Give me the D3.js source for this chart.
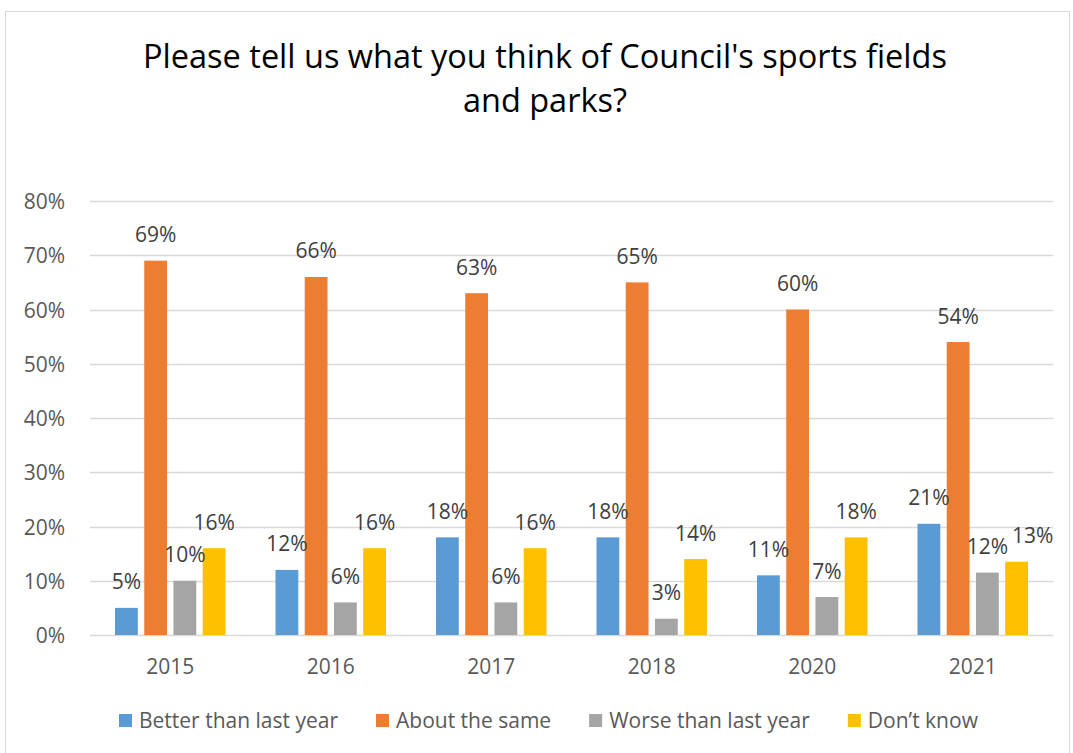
<!DOCTYPE html>
<html>
<head>
<meta charset="utf-8">
<script src="https://cdn.jsdelivr.net/npm/d3@7"></script>
<style>
    body { margin: 0; background: #fff; }
    svg text { font-family: "Open Sans", sans-serif; }
</style>
</head>
<body>
<div id="view"></div>
<script>
var years = ['2015', '2016', '2017', '2018', '2020', '2021'];
var seriesNames = ['Better than last year', 'About the same', 'Worse than last year', 'Don\u2019t know'];
var colors = ['#5B9BD5', '#ED7D31', '#A5A5A5', '#FFC000'];
var better = [0.05, 0.12, 0.18, 0.18, 0.11, 0.205];
var same = [0.69, 0.66, 0.63, 0.65, 0.60, 0.54];
var worse = [0.10, 0.06, 0.06, 0.03, 0.07, 0.115];
var dontKnow = [0.16, 0.16, 0.16, 0.14, 0.18, 0.135];
var betterLabels = ['5%', '12%', '18%', '18%', '11%', '21%'];
var sameLabels = ['69%', '66%', '63%', '65%', '60%', '54%'];
var worseLabels = ['10%', '6%', '6%', '3%', '7%', '12%'];
var dontKnowLabels = ['16%', '16%', '16%', '14%', '18%', '13%'];
var yTicks = [0, 0.1, 0.2, 0.3, 0.4, 0.5, 0.6, 0.7, 0.8];
var titleLines = ['Please tell us what you think of Council\'s sports fields', 'and parks?'];

var W = 1073, H = 753;
var margin = {left: 90, right: 20, top: 201, bottom: 118};
var series = [better, same, worse, dontKnow];
var labels = [betterLabels, sameLabels, worseLabels, dontKnowLabels];
var FONT = '21px';

var svg = d3.select('#view').append('svg')
    .attr('width', W)
    .attr('height', H);

// chart frame
svg.append('rect')
    .attr('x', 5.5).attr('y', 11.5)
    .attr('width', 1064).attr('height', 760)
    .attr('fill', '#fff')
    .attr('stroke', '#D9D9D9');

var x = d3.scaleBand()
    .domain(years)
    .range([margin.left, W - margin.right]);

var xi = d3.scaleBand()
    .domain(d3.range(series.length))
    .range([25, x.bandwidth() - 25])
    .paddingInner(0.22);

var y = d3.scaleLinear()
    .domain([0, 0.8])
    .range([H - margin.bottom, margin.top]);

// grid
svg.append('g')
    .selectAll('line')
    .data(yTicks)
    .enter()
    .append('line')
    .attr('x1', margin.left)
    .attr('x2', W - margin.right)
    .attr('y1', d => Math.round(y(d)) + 0.5)
    .attr('y2', d => Math.round(y(d)) + 0.5)
    .attr('stroke', '#D9D9D9')
    .attr('stroke-width', 1.5);

// y axis
var yAxis = svg.append('g')
    .attr('transform', `translate(${margin.left - 22}, 0)`)
    .call(d3.axisLeft(y).tickValues(yTicks).tickFormat(d3.format('.0%')).tickSize(0));
yAxis.select('.domain').remove();
yAxis.selectAll('text')
    .attr('fill', '#595959')
    .style('font-size', FONT)
    .attr('dy', '0.36em');

// x axis
var xAxis = svg.append('g')
    .attr('transform', `translate(0, ${y(0)})`)
    .call(d3.axisBottom(x).tickSize(0));
xAxis.select('.domain').remove();
xAxis.selectAll('text')
    .attr('fill', '#595959')
    .style('font-size', FONT)
    .attr('y', 39)
    .attr('dy', 0);

// bars
var barLayer = svg.append('g');
var labelLayer = svg.append('g');
var placed = years.map(() => []);

series.forEach(function(values, s) {
    barLayer.append('g')
        .attr('fill', colors[s])
        .selectAll('rect')
        .data(values)
        .enter()
        .append('rect')
        .attr('x', (d, i) => x(years[i]) + xi(s))
        .attr('y', d => y(d))
        .attr('width', xi.bandwidth())
        .attr('height', d => y(0) - y(d));
});

// value labels, nudged right when they collide with the previous label in the group
series.forEach(function(values, s) {
    values.forEach(function(v, i) {
        var t = labelLayer.append('text')
            .attr('x', x(years[i]) + xi(s) + xi.bandwidth() / 2)
            .attr('y', y(v) - 18.5)
            .attr('text-anchor', 'middle')
            .attr('fill', '#404040')
            .style('font-size', FONT)
            .text(labels[s][i]);
        var b = t.node().getBBox();
        var box = {x0: b.x, x1: b.x + b.width, y0: b.y + 5, y1: b.y + b.height - 5};
        placed[i].forEach(function(p) {
            var hit = box.x0 < p.x1 && box.x1 > p.x0 && box.y0 < p.y1 && box.y1 > p.y0;
            if (hit) {
                var shift = p.x1 - box.x0 + 4;
                t.attr('x', +t.attr('x') + shift);
                box.x0 += shift;
                box.x1 += shift;
            }
        });
        placed[i].push(box);
    });
});

// title
svg.append('text')
    .attr('x', 545)
    .attr('y', 68)
    .attr('text-anchor', 'middle')
    .attr('fill', '#000')
    .style('font-size', '32.5px')
    .selectAll('tspan')
    .data(titleLines)
    .enter()
    .append('tspan')
    .attr('x', 545)
    .attr('dy', (d, i) => i ? 44 : 0)
    .text(d => d);

// legend
var legend = svg.append('g');
var lx = 119;
seriesNames.forEach(function(name, i) {
    legend.append('rect')
        .attr('x', lx)
        .attr('y', 714)
        .attr('width', 13)
        .attr('height', 13)
        .attr('fill', colors[i]);
    var t = legend.append('text')
        .attr('x', lx + 20)
        .attr('y', 728)
        .attr('fill', '#595959')
        .style('font-size', FONT)
        .text(name);
    lx += 20 + t.node().getComputedTextLength() + 38;
});
</script>
</body>
</html>
